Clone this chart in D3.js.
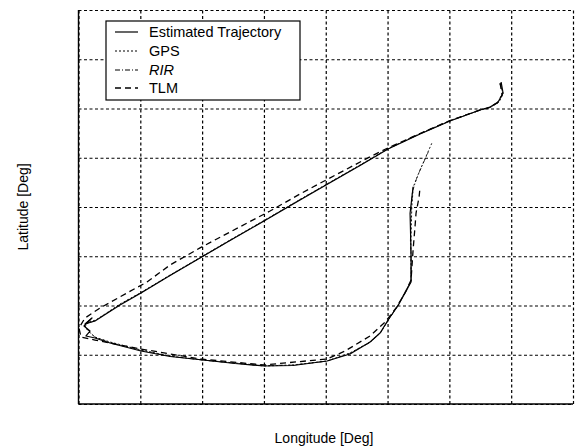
<!DOCTYPE html>
<html>
<head>
<meta charset="utf-8">
<script src="https://cdn.jsdelivr.net/npm/d3@7"></script>
<style>
  html, body { margin: 0; padding: 0; background: #fff; }
  svg { display: block; font-family: "Liberation Sans", Arial, sans-serif; }
</style>
</head>
<body>
<svg id="chart" width="581" height="447"></svg>
<script>
// ---- data (grid units; the chart shows no tick labels) ----
const lonTicks = [0, 1, 2, 3, 4, 5, 6, 7, 8];
const latTicks = [0, 1, 2, 3, 4, 5, 6, 7, 8];
const seriesNames = ["Estimated Trajectory", "GPS", "RIR", "TLM"];

const estimated = [
  [6.837,6.538],[6.869,6.315],[6.788,6.132],[6.659,6.030],[6.497,5.970],[6.011,5.746],
  [5.526,5.482],[5.008,5.178],[4.555,4.843],[4.005,4.447],[3.584,4.142],[3.002,3.716],
  [2.451,3.320],[1.966,2.964],[1.481,2.609],[1.011,2.254],[0.672,2.010],[0.267,1.685],
  [0.105,1.624],[0.218,1.746],[0.089,1.584],[0.186,1.482],[0.121,1.381],[0.267,1.340],
  [0.510,1.239],[1.011,1.076],[1.481,0.964],[2.015,0.893],[2.532,0.822],[3.002,0.772],
  [3.471,0.782],[4.021,0.873],[4.393,1.015],[4.717,1.259],[4.879,1.442],[5.008,1.706],
  [5.170,2.000],[5.283,2.254],[5.380,2.477],[5.380,3.066],[5.364,3.872],[5.413,4.412]
];

const gps = [
  [6.820,6.497],[6.869,6.294],[6.804,6.132],[6.675,6.030],[6.513,5.970],[6.011,5.756],
  [5.526,5.492],[5.008,5.188],[4.555,4.853],[4.005,4.457],[3.584,4.152],[3.002,3.726],
  [2.451,3.330],[1.966,2.974],[1.481,2.619],[1.011,2.264],[0.672,2.030],[0.283,1.706],
  [0.121,1.645],[0.202,1.726],[0.105,1.563],[0.170,1.462],[0.267,1.360],[0.510,1.259],
  [1.011,1.096],[1.481,0.975],[2.015,0.893],[2.532,0.832],[3.002,0.772],[3.471,0.792],
  [4.021,0.873],[4.393,1.036],[4.717,1.259],[4.895,1.462],[5.024,1.726],[5.170,2.010],
  [5.283,2.274],[5.380,2.497],[5.380,2.883],[5.376,3.194],[5.392,4.006],[5.417,4.412],
  [5.526,4.751],[5.715,5.293]
];

const rir = [
  [6.83,6.52],[6.86,6.30],[6.79,6.12],[6.66,6.02],[6.50,5.97],[6.01,5.75],[5.53,5.49],
  [5.01,5.18],[4.56,4.85],[4.00,4.45],[3.58,4.15],[3.00,3.72],[2.45,3.32],[1.97,2.97],
  [1.48,2.61],[1.01,2.26],[0.67,2.02],[0.27,1.69],[0.11,1.63],[0.20,1.74],[0.10,1.57],
  [0.18,1.47],[0.27,1.35],[0.51,1.25],[1.01,1.09],[1.48,0.97],[2.02,0.89],[2.53,0.83],
  [3.00,0.78],[3.47,0.79],[4.02,0.87],[4.39,1.03],[4.72,1.25],[4.89,1.45],[5.02,1.72],
  [5.17,2.00],[5.28,2.27],[5.38,2.50],[5.38,2.90],[5.37,3.30],[5.38,3.90],[5.40,4.30],
  [5.48,4.62],[5.66,5.12]
];

const tlm = [
  [6.820,6.518],[6.853,6.274],[6.772,6.112],[6.626,6.010],[6.497,5.970],[6.011,5.756],
  [5.526,5.492],[5.008,5.200],[4.717,5.020],[4.005,4.548],[3.584,4.264],[3.099,3.919],
  [2.451,3.492],[1.966,3.170],[1.481,2.822],[1.108,2.477],[0.785,2.254],[0.348,1.949],
  [0.105,1.746],[0.008,1.543],[0.040,1.360],[0.267,1.299],[0.672,1.198],[1.011,1.117],
  [1.966,0.914],[3.002,0.792],[4.021,0.914],[4.312,1.076],[4.717,1.381],[4.960,1.665],
  [5.138,1.949],[5.299,2.294],[5.380,2.518],[5.413,3.127],[5.445,3.614],[5.461,3.878],
  [5.510,4.203],[5.526,4.406]
];

// ---- layout ----
const svg = d3.select("#chart");
const pLeft = 78.5, pRight = 573, pTop = 10, pBottom = 404;
const x = d3.scaleLinear().domain([0, 8]).range([pLeft, pRight]);
const y = d3.scaleLinear().domain([0, 8]).range([pBottom, pTop]);

// grid (dashed, including top and right edges)
const grid = svg.append("g");
grid.append("g")
  .attr("transform", `translate(0,${pBottom})`)
  .call(d3.axisBottom(x).tickValues(lonTicks).tickSize(-(pBottom - pTop)).tickFormat(""))
  .call(g => g.select(".domain").remove())
  .call(g => g.selectAll(".tick line").attr("stroke", "#000").attr("stroke-width", 1.2).attr("stroke-dasharray", "3,2.5"));
grid.append("g")
  .attr("transform", `translate(${pLeft},0)`)
  .call(d3.axisLeft(y).tickValues(latTicks).tickSize(-(pRight - pLeft)).tickFormat(""))
  .call(g => g.select(".domain").remove())
  .call(g => g.selectAll(".tick line").attr("stroke", "#000").attr("stroke-width", 1.2).attr("stroke-dasharray", "3,2.5"));

// series
const line = d3.line().x(d => x(d[0])).y(d => y(d[1])).curve(d3.curveLinear);
const styles = [
  { data: estimated, dash: null, w: 1.2 },
  { data: gps, dash: "2,2", w: 0.9 },
  { data: rir, dash: "5,2,1,2", w: 0.7 },
  { data: tlm, dash: "6,4", w: 1.3 }
];
styles.forEach(s => {
  svg.append("path")
    .datum(s.data)
    .attr("d", line)
    .attr("fill", "none")
    .attr("stroke", "#000")
    .attr("stroke-width", s.w)
    .attr("stroke-linejoin", "round")
    .attr("stroke-dasharray", s.dash);
});

// solid left and bottom borders
svg.append("line").attr("x1", pLeft).attr("x2", pLeft).attr("y1", pTop).attr("y2", pBottom)
  .attr("stroke", "#000").attr("stroke-width", 1.4);
svg.append("line").attr("x1", pLeft).attr("x2", pRight).attr("y1", pBottom).attr("y2", pBottom)
  .attr("stroke", "#000").attr("stroke-width", 1.4);

// legend
const lg = svg.append("g");
lg.append("rect").attr("x", 106).attr("y", 21).attr("width", 194).attr("height", 79)
  .attr("fill", "#fff").attr("stroke", "#000").attr("stroke-width", 1.2);
const rowY = [32, 51, 70, 88];
seriesNames.forEach((name, i) => {
  const s = styles[i];
  lg.append("line").attr("x1", 115).attr("x2", 138).attr("y1", rowY[i]).attr("y2", rowY[i])
    .attr("stroke", "#000").attr("stroke-width", Math.max(s.w, 1))
    .attr("stroke-dasharray", s.dash);
  lg.append("text").attr("x", 149).attr("y", rowY[i] + 5)
    .attr("font-size", 14.5)
    .attr("font-style", name === "RIR" ? "italic" : "normal")
    .attr("fill", "#000")
    .text(name);
});

// axis labels
svg.append("text").attr("x", 324).attr("y", 442.5).attr("text-anchor", "middle")
  .attr("font-size", 14).attr("fill", "#000").text("Longitude [Deg]");
svg.append("text").attr("transform", "translate(28,207) rotate(-90)").attr("text-anchor", "middle")
  .attr("font-size", 14).attr("fill", "#000").text("Latitude [Deg]");
</script>
</body>
</html>
